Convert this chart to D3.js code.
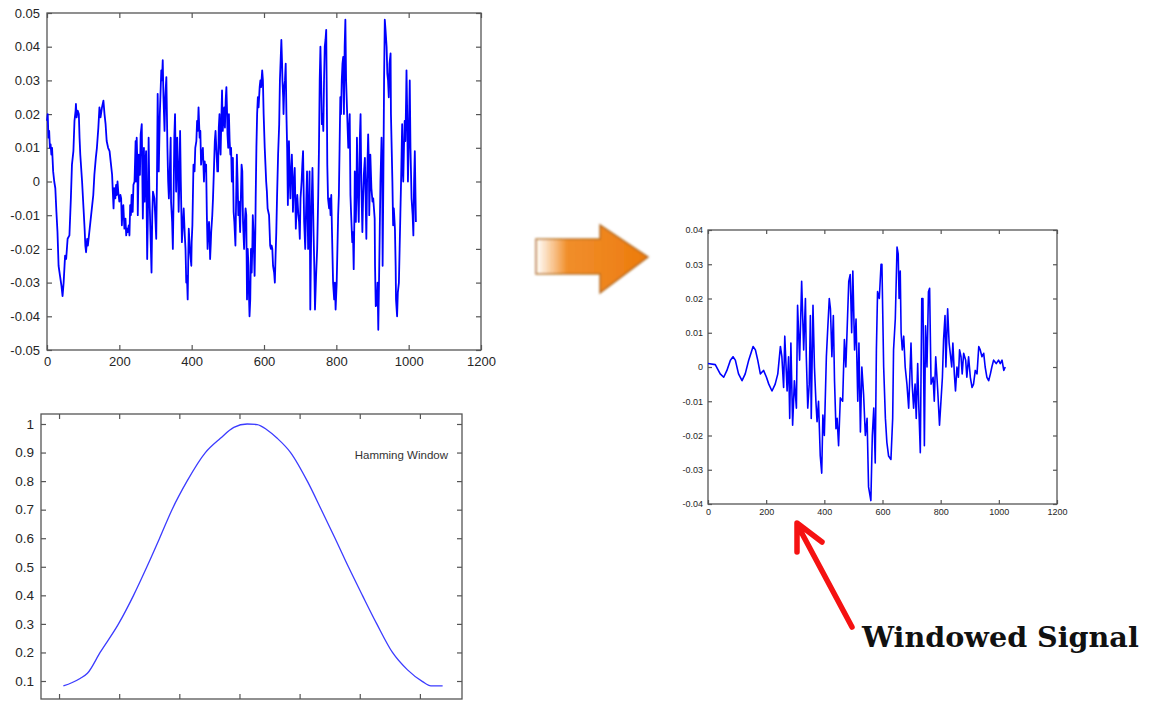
<!DOCTYPE html>
<html>
<head>
<meta charset="utf-8">
<script src="https://cdn.jsdelivr.net/npm/d3@7"></script>
<style>
  body { margin: 0; background: #fff; }
  svg { display: block; }
  .tick text { font-family: "Liberation Sans", Arial, sans-serif; fill: #262626; }
</style>
</head>
<body>
<div id="chart"></div>
<script>
// speech signal (sample index, amplitude)
const sigX = [0,2,4,6,8,10,12,14,17,20,23,26,29,32,36,40,43,46,50,53,57,62,66,69,73,76,79,80,82,85,88,90,92,97,101,104,106,108,111,113,117,122,128,131,135,138,142,145,148,152,156,159,162,165,169,173,177,180,182,184,186,189,191,193,195,197,200,203,205,207,209,211,214,217,219,221,223,226,228,230,232,234,237,239,242,245,246,248,250,251,254,257,259,262,264,265,268,270,272,274,277,279,281,283,286,289,291,293,295,297,300,302,304,306,308,309,312,316,318,320,322,325,327,330,333,335,337,340,342,343,346,348,350,352,354,357,360,362,364,366,368,370,373,376,378,381,383,385,387,389,391,392,395,399,400,402,405,408,410,413,415,417,419,421,422,424,426,428,431,434,436,438,440,442,444,446,448,450,451,453,454,457,459,462,464,466,469,471,473,475,477,478,480,482,484,485,486,488,490,492,494,496,498,499,501,503,505,507,509,511,512,514,516,518,521,523,525,527,529,531,534,536,538,540,542,545,547,549,551,553,555,557,558,560,562,564,566,568,569,571,574,576,577,579,581,583,585,588,590,592,595,597,599,602,604,606,608,610,614,617,619,621,623,625,628,630,632,634,636,639,642,644,646,648,650,651,653,654,656,658,660,662,664,666,668,669,671,673,675,677,679,680,683,685,688,690,692,695,697,699,701,704,706,708,711,714,716,719,722,724,726,728,731,734,737,739,741,744,747,750,752,754,756,758,760,762,764,766,768,770,772,774,775,777,780,782,784,786,788,791,794,796,798,801,803,805,807,809,811,813,815,817,819,821,823,825,827,830,833,835,837,839,841,844,846,848,850,851,853,854,856,857,859,862,864,865,867,869,872,874,876,879,881,883,885,888,890,891,893,894,897,900,902,904,906,907,909,912,914,916,918,920,922,925,927,928,930,932,934,936,939,941,943,945,947,950,951,953,955,957,959,962,964,965,968,970,973,975,977,979,982,983,985,987,989,991,993,994,996,998,1000,1003,1005,1008,1011,1013,1015,1017,1019,1020];
const sigY = [0.018,0.02,0.013,0.015,0.01,0.011,0.008,0.01,0.003,0,-0.002,-0.009,-0.015,-0.025,-0.028,-0.031,-0.034,-0.03,-0.022,-0.023,-0.017,-0.016,-0.005,0.005,0.009,0.018,0.021,0.023,0.019,0.021,0.02,0.013,0.008,0,-0.008,-0.014,-0.019,-0.021,-0.017,-0.019,-0.015,-0.01,-0.004,0.002,0.007,0.01,0.016,0.022,0.019,0.022,0.024,0.02,0.017,0.012,0.01,0.009,0.005,0.002,-0.003,-0.008,-0.002,-0.005,-0.001,-0.004,0,-0.003,-0.006,-0.004,-0.005,-0.013,-0.008,-0.007,-0.014,-0.011,-0.016,-0.014,-0.015,-0.013,-0.016,-0.007,-0.01,-0.004,-0.009,-0.001,0,0.012,0,0.013,0.005,-0.01,0.008,0.002,0.014,0.017,-0.002,-0.011,0.01,-0.006,0.005,0.009,-0.023,-0.01,0.013,-0.003,-0.015,-0.027,-0.01,-0.003,-0.004,-0.005,-0.012,-0.017,0,0.026,0.01,0.003,0.02,0.033,0.03,0.036,0.025,0.015,0.025,0.031,0.01,0,-0.005,0.005,0.013,-0.006,-0.012,-0.02,-0.005,0.013,0.02,-0.003,0.013,0.005,-0.009,0,0.015,0,-0.018,-0.012,-0.008,-0.016,-0.02,-0.03,-0.028,-0.035,-0.02,-0.014,-0.02,-0.025,-0.018,-0.013,0.005,0.003,0.01,0.012,0.018,0.015,0.022,0.016,0.013,0.015,0.005,0.008,0.01,0,0.006,0.003,0.005,-0.01,-0.02,-0.015,-0.012,-0.018,-0.023,-0.018,-0.015,-0.01,-0.005,0.005,0.012,0.015,0.008,0.003,0.003,0.016,0.02,0.012,0.008,0.018,0.027,0.02,0.015,0.019,0.022,0.016,0.024,0.028,0.02,0.014,0.01,0.02,0.012,0.008,0.01,0,0.004,0.007,-0.009,-0.012,-0.019,-0.005,0.008,0,-0.01,-0.006,-0.015,-0.005,0.005,0.003,-0.012,-0.02,-0.012,-0.008,-0.01,-0.035,-0.02,-0.025,-0.032,-0.04,-0.035,-0.02,-0.027,-0.018,-0.01,-0.015,-0.028,-0.015,-0.005,0.01,0.02,0.025,0.022,0.028,0.03,0.028,0.033,0.03,0.02,0.01,0.005,0,-0.003,-0.008,-0.01,-0.019,-0.02,-0.019,-0.02,-0.025,-0.027,-0.03,-0.022,-0.015,-0.005,0.008,0.017,0.03,0.036,0.042,0.035,0.03,0.025,0.02,0.028,0.03,0.035,0.02,0.01,-0.007,0.005,0.012,0.002,-0.005,0.003,0.008,0,-0.009,0,0.004,-0.014,-0.008,-0.004,-0.01,-0.012,-0.017,-0.005,0,0.005,0.009,-0.012,-0.02,-0.01,0.003,-0.02,-0.01,0.003,-0.038,-0.01,0.004,-0.015,-0.025,-0.038,-0.028,-0.02,-0.004,0.01,0.03,0.04,0.03,0.017,0.02,0.015,0.03,0.04,0.042,0.045,0.02,0.005,-0.005,-0.008,-0.005,-0.01,-0.004,-0.015,-0.03,-0.035,-0.03,-0.038,-0.03,-0.02,-0.01,-0.004,0.01,0.025,0.02,0.03,0.035,0.037,0.02,0.04,0.048,0.03,0.02,0.01,0.015,0.02,-0.004,-0.01,-0.018,-0.015,-0.026,-0.01,0.003,-0.005,-0.012,0,0.013,0,-0.012,0.005,0.013,0.02,0,-0.015,-0.005,0.002,0.007,-0.005,-0.017,0,0.014,0.005,-0.01,0,0.008,-0.002,-0.006,-0.005,-0.008,-0.011,-0.025,-0.037,-0.036,-0.03,-0.044,-0.03,-0.015,0,0.013,0,-0.025,0,0.03,0.048,0.045,0.04,0.032,0.03,0.025,0.035,0.038,0.02,0.01,0,-0.013,-0.008,-0.014,-0.025,-0.035,-0.04,-0.033,-0.03,-0.02,-0.01,0,0.017,0.005,0,0.01,0.018,0.012,0.025,0.033,0.02,0,0.01,0.03,0.01,-0.005,-0.01,-0.016,0,0.009,-0.005,-0.012];

// hamming window (tick units, gain)
const hamX = [0.072,0.211,0.35,0.472,0.683,0.989,1.239,1.461,1.672,1.878,2.128,2.433,2.683,2.906,3.128,3.294,3.461,3.628,3.85,4.128,4.361,4.589,4.811,5.044,5.283,5.544,5.794,6.044,6.183,6.378];
const hamY = [0.083,0.094,0.109,0.127,0.2,0.3,0.4,0.5,0.6,0.7,0.8,0.9,0.95,0.988,1,0.998,0.979,0.95,0.9,0.8,0.7,0.6,0.5,0.4,0.3,0.2,0.139,0.098,0.083,0.083];

// windowed signal
const winX = [0,25,42,54,65,77,86,94,105,117,128,140,155,163,171,180,191,201,209,220,231,240,249,254,260,264,272,277,281,285,291,297,304,308,315,322,329,335,338,343,348,352,355,361,366,371,375,380,386,391,395,400,407,411,417,421,426,431,435,440,444,449,455,463,469,474,480,484,489,494,498,504,509,515,519,524,529,535,541,547,552,560,565,570,575,579,583,589,595,598,604,610,615,621,629,635,638,644,650,654,657,661,664,668,673,678,684,690,693,698,702,707,712,716,721,725,730,735,739,744,748,753,758,762,767,774,778,783,790,796,801,806,810,815,818,824,829,833,838,842,847,851,856,861,865,870,874,879,886,890,896,902,908,913,919,925,931,936,942,948,953,959,965,971,976,982,991,999,1005,1011,1017,1022];
const winY = [0.001,0.0007,-0.002,-0.003,-0.001,0.002,0.003,0.002,-0.002,-0.004,-0.002,0.002,0.006,0.005,0.002,-0.002,-0.001,-0.003,-0.005,-0.007,-0.005,-0.002,0.006,0.003,-0.006,0.009,-0.007,0.003,-0.015,0.007,-0.017,-0.004,-0.012,0.018,0.002,0.025,0.005,0.02,0.003,-0.012,-0.005,0.015,-0.015,0.018,0,-0.01,-0.016,-0.01,-0.026,-0.031,-0.014,-0.02,0.003,0.01,0.02,0.017,0.003,0.015,-0.004,-0.018,-0.015,-0.023,-0.009,-0.01,0.008,0,0.015,0.025,0.027,0.01,0.028,0.005,0.014,-0.01,0.007,-0.019,0,-0.008,-0.02,-0.015,-0.035,-0.039,-0.02,-0.012,-0.028,0.005,0.022,0.02,0.03,0.03,0,-0.015,-0.022,-0.026,-0.027,-0.015,0.005,0.014,0.035,0.033,0.02,0.028,0.01,0.005,0.009,0,-0.005,-0.012,-0.005,0.007,-0.005,-0.012,-0.005,-0.015,0.001,-0.012,-0.025,0.02,0.02,-0.023,0.012,0,0.022,0.023,-0.005,-0.003,-0.01,0.003,-0.007,-0.017,-0.01,-0.003,0.008,0.015,0,0.017,0.007,0.004,0,0.007,-0.002,-0.007,0,-0.003,0.005,0.003,-0.002,0.004,0.002,-0.003,0.003,-0.003,-0.006,-0.005,-0.001,-0.002,0.006,0.005,0.003,0.004,0,-0.003,-0.004,-0.002,0,0.002,0.001,0.002,0.001,0.002,-0.001,0];

// tick values
const xTicks = [0, 200, 400, 600, 800, 1000, 1200];
const sigTicks = [-0.05, -0.04, -0.03, -0.02, -0.01, 0, 0.01, 0.02, 0.03, 0.04, 0.05];
const hamXTicks = [0, 1, 2, 3, 4, 5, 6];
const hamTicks = [0.1, 0.2, 0.3, 0.4, 0.5, 0.6, 0.7, 0.8, 0.9, 1];
const winTicks = [-0.04, -0.03, -0.02, -0.01, 0, 0.01, 0.02, 0.03, 0.04];

const svg = d3.select("#chart").append("svg")
  .attr("width", 1150)
  .attr("height", 702);

const fmt = d => String(+d.toFixed(2));

// matlab style box with inward ticks on all four sides
function panel(o) {
  const w = o.right - o.left, h = o.bottom - o.top;
  const g = svg.append("g").attr("transform", "translate(" + o.left + "," + o.top + ")");
  const x = d3.scaleLinear().domain(o.xDomain).range([0, w]);
  const y = d3.scaleLinear().domain(o.yDomain).range([h, 0]);

  g.append("rect")
    .attr("width", w).attr("height", h)
    .attr("fill", "#fff")
    .attr("stroke", "#555").attr("stroke-width", 1.3);

  const axes = [
    [d3.axisBottom(x).tickValues(o.xTicks).tickFormat(o.xLabels ? fmt : ""), "translate(0," + h + ")"],
    [d3.axisTop(x).tickValues(o.xTicks).tickFormat(""), null],
    [d3.axisLeft(y).tickValues(o.yTicks).tickFormat(fmt), null],
    [d3.axisRight(y).tickValues(o.yTicks).tickFormat(""), "translate(" + w + ",0)"]
  ];
  axes.forEach(([ax, tr]) => {
    const a = g.append("g")
      .call(ax.tickSizeInner(-o.tick).tickSizeOuter(0).tickPadding(o.pad))
      .style("font-size", o.font + "px");
    if (tr) a.attr("transform", tr);
    a.select(".domain").remove();
    a.selectAll(".tick line").attr("stroke", "#555").attr("stroke-width", 1.2);
  });

  const line = d3.line()
    .x((d, i) => x(o.xs[i]))
    .y(d => y(d))
    .curve(o.curve || d3.curveLinear);
  g.append("path")
    .datum(o.ys)
    .attr("d", line)
    .attr("fill", "none")
    .attr("stroke", o.color)
    .attr("stroke-width", o.lw)
    .attr("stroke-linejoin", "round");
  return g;
}

panel({ left: 47, top: 13, right: 481, bottom: 350,
  xDomain: [0, 1200], yDomain: [-0.05, 0.05],
  xTicks: xTicks, yTicks: sigTicks, xLabels: true,
  xs: sigX, ys: sigY, color: "#0000ff", lw: 1.8,
  tick: 5, pad: 7, font: 13 });

const hg = panel({ left: 41, top: 414, right: 462, bottom: 699,
  xDomain: [-0.3, 6.7], yDomain: [0.037, 1.035],
  xTicks: hamXTicks, yTicks: hamTicks, xLabels: false,
  xs: hamX, ys: hamY, color: "#3b3bff", lw: 1.3, curve: d3.curveMonotoneX,
  tick: 5, pad: 7, font: 13.5 });

hg.append("text")
  .attr("x", 407).attr("y", 45)
  .attr("text-anchor", "end")
  .style("font-family", "Liberation Sans, Arial, sans-serif")
  .style("font-size", "11.5px")
  .attr("fill", "#333")
  .text("Hamming Window");

panel({ left: 708, top: 230, right: 1057, bottom: 504,
  xDomain: [0, 1200], yDomain: [-0.04, 0.04],
  xTicks: xTicks, yTicks: winTicks, xLabels: true,
  xs: winX, ys: winY, color: "#0000ff", lw: 1.6,
  tick: 4, pad: 5, font: 9 });

// orange block arrow between the plots
const defs = svg.append("defs");
const grad = defs.append("linearGradient").attr("id", "orange")
  .attr("x1", "0").attr("x2", "1").attr("y1", "0").attr("y2", "0");
grad.append("stop").attr("offset", "0").attr("stop-color", "#f3942e").attr("stop-opacity", 0);
grad.append("stop").attr("offset", "0.28").attr("stop-color", "#f08820").attr("stop-opacity", 0.95);
grad.append("stop").attr("offset", "1").attr("stop-color", "#ec7b0c");
defs.append("filter").attr("id", "soft")
  .append("feGaussianBlur").attr("stdDeviation", 1.1);

svg.append("path")
  .attr("d", "M536,239 L600,239 L600,225 L648,257 L600,293 L600,274 L536,274 Z")
  .attr("fill", "url(#orange)")
  .attr("stroke", "#a3560c").attr("stroke-opacity", 0.75).attr("stroke-width", 1.6)
  .attr("filter", "url(#soft)");

// red pointer
svg.append("path")
  .attr("d", "M852,627 L798,526 M797,552 L797,523 L822,542")
  .attr("fill", "none")
  .attr("stroke", "#f51212")
  .attr("stroke-width", 5.5)
  .attr("stroke-linecap", "round")
  .attr("stroke-linejoin", "round");

svg.append("text")
  .attr("x", 862).attr("y", 647)
  .style("font-family", "DejaVu Serif, serif")
  .style("font-weight", "bold")
  .style("font-size", "28.6px")
  .attr("fill", "#111")
  .text("Windowed Signal");
</script>
</body>
</html>
